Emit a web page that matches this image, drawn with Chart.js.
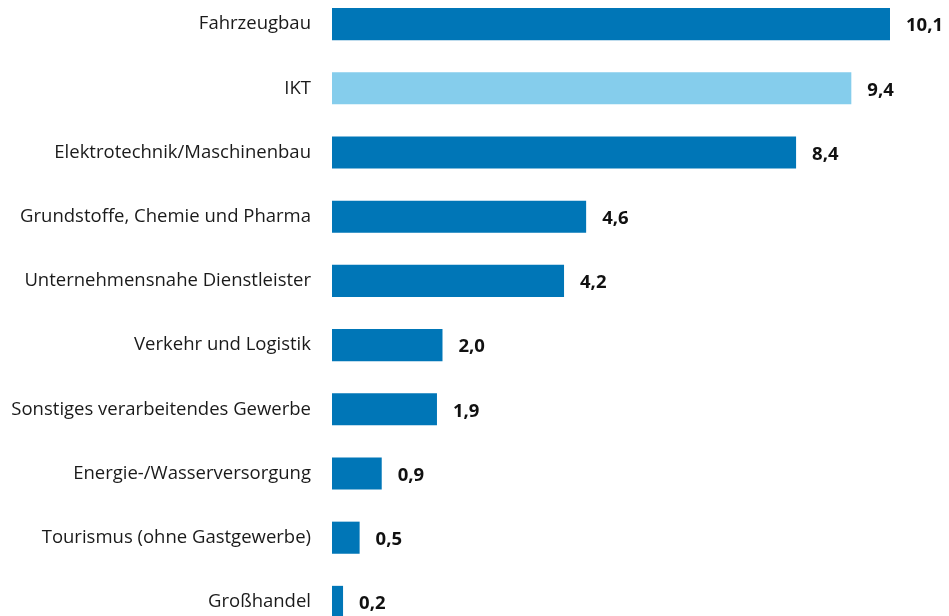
<!DOCTYPE html>
<html>
<head>
<meta charset="utf-8">
<script src="https://cdn.jsdelivr.net/npm/chart.js@4"></script>
<style>
  html, body { margin: 0; padding: 0; background: #fff; overflow: hidden; }
  #wrap { position: absolute; left: 0; top: -8px; width: 949px; height: 642px; }
</style>
</head>
<body>
<div id="wrap"><canvas id="bar-chart"></canvas></div>
<script>
// Branchen und Werte
const branchen = [
    'Fahrzeugbau',
    'IKT',
    'Elektrotechnik/Maschinenbau',
    'Grundstoffe, Chemie und Pharma',
    'Unternehmensnahe Dienstleister',
    'Verkehr und Logistik',
    'Sonstiges verarbeitendes Gewerbe',
    'Energie-/Wasserversorgung',
    'Tourismus (ohne Gastgewerbe)',
    'Großhandel'
];
const werte = [10.1, 9.4, 8.4, 4.6, 4.2, 2.0, 1.9, 0.9, 0.5, 0.2];
const hervorgehoben = 'IKT';

const DARK = '#0076b7';
const LIGHT = '#85cdec';
const FONT = "'Open Sans', 'Noto Sans', sans-serif";

// Werte rechts neben die Balken schreiben
const valueLabels = {
    id: 'valueLabels',
    afterDatasetsDraw(chart) {
        const ctx = chart.ctx;
        const meta = chart.getDatasetMeta(0);
        ctx.save();
        ctx.font = 'bold 18.5px ' + FONT;
        ctx.fillStyle = '#111';
        ctx.textAlign = 'left';
        ctx.textBaseline = 'middle';
        meta.data.forEach((bar, i) => {
            const txt = werte[i].toFixed(1).replace('.', ',');
            ctx.fillText(txt, bar.x + 16, bar.y + 2);
        });
        ctx.restore();
    }
};

const ctx = document.getElementById('bar-chart').getContext('2d');
new Chart(ctx, {
    type: 'bar',
    data: {
        labels: branchen,
        datasets: [{
            data: werte,
            backgroundColor: branchen.map(b => b === hervorgehoben ? LIGHT : DARK),
            barPercentage: 0.5,
            categoryPercentage: 1.0,
            borderWidth: 0
        }]
    },
    options: {
        indexAxis: 'y',
        responsive: true,
        maintainAspectRatio: false,
        animation: false,
        layout: { padding: { left: 0, right: 59, top: 0, bottom: 0 } },
        scales: {
            x: {
                display: false,
                min: 0,
                max: 10.1
            },
            y: {
                grid: { display: false, drawTicks: false },
                border: { display: false },
                ticks: {
                    padding: 21,
                    color: '#1a1a1a',
                    font: { family: FONT, size: 18.5 }
                },
                afterFit(scale) {
                    scale.width = 332;
                    // keine zusaetzliche Polsterung oben/unten
                    scale.paddingTop = 0;
                    scale.paddingBottom = 0;
                }
            }
        },
        plugins: {
            legend: { display: false },
            tooltip: { enabled: false }
        }
    },
    plugins: [valueLabels]
});
</script>
</body>
</html>
